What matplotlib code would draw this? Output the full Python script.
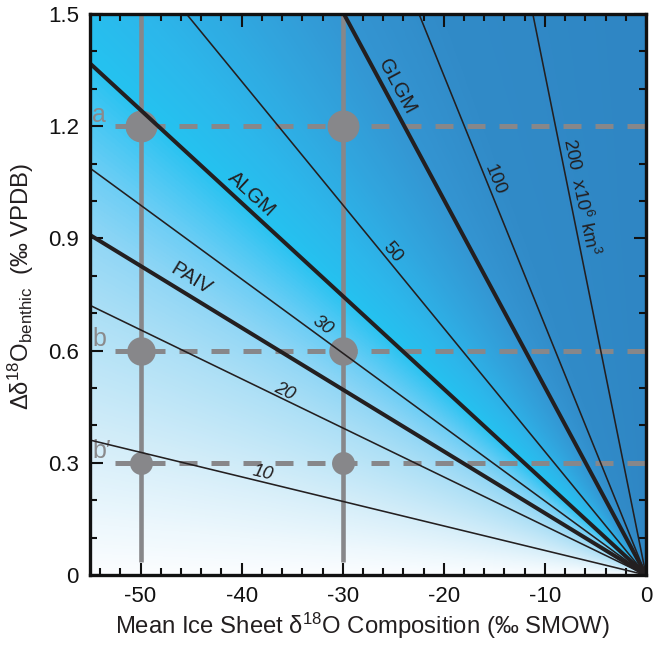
import numpy as np
import matplotlib
matplotlib.use('Agg')
import matplotlib.pyplot as plt
from matplotlib.colors import LinearSegmentedColormap

plt.rcParams['font.family'] = ['Liberation Sans', 'DejaVu Sans']
plt.rcParams['mathtext.fontset'] = 'custom'
plt.rcParams['mathtext.rm'] = 'Liberation Sans'
plt.rcParams['mathtext.it'] = 'Liberation Sans:italic'
plt.rcParams['mathtext.bf'] = 'Liberation Sans:bold'

# ---------------- data ----------------
# ice volume isolines (x10^6 km^3): slope of delta18O_benthic per permil of ice composition
volume_labels = ['10', '20', '30', '50', '100', '200  x10$^6$ km$^3$']
volume_slopes = [0.00656, 0.01311, 0.01978, 0.0330, 0.0668, 0.1340]
volume_label_x = [-38.1, -36.1, -32.6, -25.7, -15.7, -7.5]

# named ice volume estimates
event_labels = ['PAIV', 'ALGM', 'GLGM']
event_slopes = [0.01653, 0.02487, 0.0502]
event_label_x = [-45.8, -39.9, -25.7]

# reference compositions and benthic shifts
ref_x = [-50, -30]
ref_y = [1.2, 0.6, 0.3]
ref_letters = ['a', 'b', "b\u2032"]

x_ticks = [-50, -40, -30, -20, -10, 0]
x_ticklabels = ['-50', '-40', '-30', '-20', '-10', '0']
y_ticks = [0, 0.3, 0.6, 0.9, 1.2, 1.5]
y_ticklabels = ['0', '0.3', '0.6', '0.9', '1.2', '1.5']

# ---------------- styling ----------------
W, H = 653, 645
fig = plt.figure(figsize=(W / 100, H / 100), dpi=100)
ax_rect = [90 / W, 1 - 575 / H, 556 / W, 561 / H]
ax = fig.add_axes(ax_rect)
XMIN, XMAX, YMIN, YMAX = -55, 0, 0, 1.5
ax.set_xlim(XMIN, XMAX)
ax.set_ylim(YMIN, YMAX)

sx = ax_rect[2] * W / (XMAX - XMIN)   # px per x unit
sy = ax_rect[3] * H / (YMAX - YMIN)   # px per y unit

# background angular gradient
nx, ny = 600, 600
gx = np.linspace(XMIN, XMAX, nx)
gy = np.linspace(YMIN, YMAX, ny)
GX, GY = np.meshgrid(gx, gy)
ang = np.degrees(np.arctan2(GY * sy, -GX * sx + 1e-9)) / 90.0
stops = [
    (0.0, '#fbfdff'),
    (5 / 90, '#eef8fd'),
    (14 / 90, '#d3edf9'),
    (25 / 90, '#aee0f6'),
    (31 / 90, '#93d7f5'),
    (36 / 90, '#6ecef5'),
    (40 / 90, '#45c7f3'),
    (43 / 90, '#25c2f0'),
    (48 / 90, '#2cb7eb'),
    (55 / 90, '#31a5de'),
    (62 / 90, '#3495d2'),
    (70 / 90, '#318bc8'),
    (1.0, '#2f86c4'),
]
cmap = LinearSegmentedColormap.from_list('bg', stops)
ax.imshow(ang, origin='lower', extent=[XMIN, XMAX, YMIN, YMAX], aspect='auto',
          cmap=cmap, vmin=0, vmax=1, interpolation='bilinear', zorder=0)

gray = '#87878a'
dark = '#231f20'

# gray reference lines
for xv in ref_x:
    ax.plot([xv, xv], [0.035, YMAX], color=gray, lw=3.3, solid_capstyle='butt', zorder=2)
for yv in ref_y:
    ax.plot([-52.5, XMAX], [yv, yv], color=gray, lw=3.6, dashes=(3.6, 2.8),
            solid_capstyle='butt', dash_capstyle='butt', zorder=2)
msizes = {1.2: 23, 0.6: 20.5, 0.3: 16.5}
for yv in ref_y:
    for xv in ref_x:
        ax.plot([xv], [yv], 'o', color=gray, ms=msizes[yv], mec='none', zorder=3)
for yv, letter in zip(ref_y, ref_letters):
    ax.text(-54.8, yv + 0.012, letter, color='#8a8a8c', fontsize=18,
            ha='left', va='baseline', zorder=4)

# isolines
xs = np.array([XMIN - 1, XMAX])


def draw_line(slope, lw):
    ax.plot(xs, -slope * xs, color=dark, lw=lw, solid_capstyle='butt', zorder=5)


def label_line(slope, x0, text, off, italic=False, fs=14):
    rot = -np.degrees(np.arctan(slope * sy / sx))
    r = np.radians(rot)
    dx, dy = -np.sin(r) * off, np.cos(r) * off
    ax.annotate(text, xy=(x0, -slope * x0), xytext=(dx, dy), textcoords='offset points',
                rotation=rot, rotation_mode='anchor', ha='center', va='center',
                fontsize=fs, color=dark, style='italic' if italic else 'normal', zorder=6)


vol_offsets = [6.6, 5.2, 7.0, 5.8, 5.4, 7.4]
vol_italic = [True, True, True, False, False, False]
for s, lab, x0, off, it in zip(volume_slopes, volume_labels, volume_label_x, vol_offsets, vol_italic):
    draw_line(s, 1.15)
    label_line(s, x0, lab, off, it, fs=13.5)

ev_offsets = [11.0, 9.3, 8.8]
for s, lab, x0, off in zip(event_slopes, event_labels, event_label_x, ev_offsets):
    draw_line(s, 2.9)
    label_line(s, x0, lab, off, False, fs=14.5)

# axes styling
for sp in ax.spines.values():
    sp.set_linewidth(2.4)
    sp.set_color('#111111')
    sp.set_zorder(10)
ax.set_xticks(x_ticks)
ax.set_xticklabels(x_ticklabels)
ax.set_yticks(y_ticks)
ax.set_yticklabels(y_ticklabels)
ax.set_xticks(np.arange(-54, 0.1, 2), minor=True)
ax.set_yticks(np.arange(0, 1.51, 0.1), minor=True)
ax.tick_params(which='both', direction='in', top=True, right=True, color='#111111',
               width=1.5, labelsize=16, labelcolor='#111111')
ax.tick_params(which='major', length=9, pad=8)
ax.tick_params(which='minor', length=5)

ax.set_xlabel('Mean Ice Sheet \u03b4$^{18}$O Composition (\u2030 SMOW)', fontsize=17.2,
              color='#231f20')
ax.xaxis.set_label_coords(0.49, -0.064)
ax.set_ylabel('\u0394\u03b4$^{18}$O$_{\\mathrm{benthic}}$  (\u2030 VPDB)', fontsize=17.2,
              color='#231f20')
ax.yaxis.set_label_coords(-0.097, 0.514)

fig.savefig('out.png', dpi=100)
